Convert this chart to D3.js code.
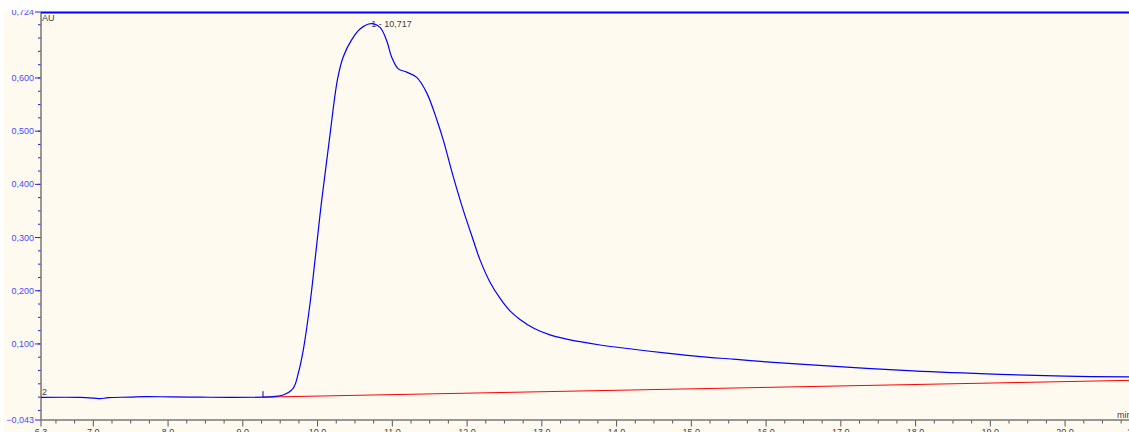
<!DOCTYPE html>
<html>
<head>
<meta charset="utf-8">
<script src="https://cdn.jsdelivr.net/npm/d3@7"></script>
<style>
  body { margin: 0; background: #fff; }
  svg { display: block; font-family: "Liberation Sans", Arial, sans-serif; }
</style>
</head>
<body>
<div id="chromatogram"></div>
<script>
// signal (minutes, AU)
var times = [6.3, 6.82, 7.01, 7.09, 7.2, 7.49, 7.69, 8.03, 8.43, 8.83, 9.27, 9.41, 9.54,
  9.675, 9.742, 9.809, 9.899, 9.966, 10.055, 10.157, 10.267, 10.344, 10.457, 10.568,
  10.717, 10.835, 10.925, 10.992, 11.08, 11.192, 11.326, 11.46, 11.594, 11.682, 11.816,
  11.95, 12.083, 12.173, 12.307, 12.44, 12.574, 12.708, 12.886, 13.109, 13.333, 13.779,
  14.224, 14.67, 15.116, 15.561, 16.008, 16.454, 17.965, 19.13, 20.0, 20.855];
var absorbance = [-0.0005, -0.0005, -0.002, -0.003, -0.001, 0.0, 0.001, 0.0005, 0.0, -0.0005, 0.0, 0.001, 0.004,
  0.017, 0.045, 0.089, 0.176, 0.258, 0.370, 0.483, 0.598, 0.640, 0.672, 0.692,
  0.702, 0.695, 0.670, 0.639, 0.617, 0.611, 0.601, 0.572, 0.522, 0.483, 0.414,
  0.351, 0.295, 0.258, 0.216, 0.186, 0.162, 0.146, 0.130, 0.117, 0.109, 0.098,
  0.090, 0.0826, 0.0762, 0.0713, 0.0662, 0.0619, 0.0493, 0.0428, 0.0394, 0.038];

// integration baseline
var baseTimes = [9.27, 20.855];
var baseValues = [0.0, 0.0315];

var peakLabel = "1 - 10,717";
var peakTime = 10.717;
var peakValue = 0.702;
var eventLabel = "2";
var markTime = 9.27;

var xMajor = [6.3, 7, 8, 9, 10, 11, 12, 13, 14, 15, 16, 17, 18, 19, 20, 21];
var yMajor = [-0.043, 0.1, 0.2, 0.3, 0.4, 0.5, 0.6, 0.724];

var width = 1129, height = 432;

var x = d3.scaleLinear().domain([6.3, 20.855]).range([41, 1129]);
var y = d3.scaleLinear().domain([-0.043, 0.724]).range([420, 12]);

var fmt = function(v, p) { return d3.format("." + p + "f")(v).replace(".", ","); };

var svg = d3.select("#chromatogram").append("svg")
    .attr("width", width)
    .attr("height", height);

svg.append("defs").append("clipPath").attr("id", "view")
  .append("rect").attr("x", 0).attr("y", 10).attr("width", width).attr("height", height - 10);

svg.append("rect")
    .attr("x", 4).attr("y", 12)
    .attr("width", width - 4).attr("height", height - 12)
    .attr("fill", "#fffaf0");

var g = svg.append("g").attr("clip-path", "url(#view)");

// minor ticks
var yMinor = d3.range(-0.025, 0.72, 0.025);
g.selectAll(".ymin").data(yMinor).enter().append("line")
    .attr("x1", 38).attr("x2", 41)
    .attr("y1", function(d) { return y(d); }).attr("y2", function(d) { return y(d); })
    .attr("stroke", "#2020ff").attr("stroke-width", 1);

var xMinor = d3.range(6.5, 20.9, 0.25).filter(function(d) { return Math.abs(d - Math.round(d)) > 0.01; });
g.selectAll(".xmin").data(xMinor).enter().append("line")
    .attr("x1", function(d) { return x(d); }).attr("x2", function(d) { return x(d); })
    .attr("y1", 420).attr("y2", 423.5)
    .attr("stroke", "#555").attr("stroke-width", 1);

// major y ticks + labels
g.selectAll(".ymaj").data(yMajor).enter().append("line")
    .attr("x1", 35).attr("x2", 41)
    .attr("y1", function(d) { return y(d); }).attr("y2", function(d) { return y(d); })
    .attr("stroke", "#2020ff").attr("stroke-width", 1);

g.selectAll(".ylab").data(yMajor).enter().append("text")
    .attr("x", 34)
    .attr("y", function(d) { return y(d) + 3; })
    .attr("text-anchor", "end")
    .attr("font-size", "9px")
    .attr("fill", "#4a4aff")
    .text(function(d) { return fmt(d, 3); });

// major x ticks + labels (cut by the bottom edge, as in the original print)
g.selectAll(".xmaj").data(xMajor).enter().append("line")
    .attr("x1", function(d) { return x(d); }).attr("x2", function(d) { return x(d); })
    .attr("y1", 420).attr("y2", 426.5)
    .attr("stroke", "#555").attr("stroke-width", 1);

g.selectAll(".xlab").data(xMajor).enter().append("text")
    .attr("x", function(d) { return Math.min(x(d), 1136); })
    .attr("y", 435)
    .attr("text-anchor", "middle")
    .attr("font-size", "9px")
    .attr("fill", "#404040")
    .text(function(d) { return fmt(d, 1); });

// axes lines
g.append("line")
    .attr("x1", 41).attr("x2", 41).attr("y1", 12).attr("y2", 420)
    .attr("stroke", "#777").attr("stroke-width", 1.5);
g.append("line")
    .attr("x1", 41).attr("x2", width).attr("y1", 420).attr("y2", 420)
    .attr("stroke", "#777").attr("stroke-width", 1.5);

// top border
g.append("line")
    .attr("x1", 41).attr("x2", width).attr("y1", 12.5).attr("y2", 12.5)
    .attr("stroke", "#0000ff").attr("stroke-width", 2);

g.append("text").attr("x", 42).attr("y", 21)
    .attr("font-size", "9px").attr("fill", "#404040").text("AU");
g.append("text").attr("x", 1117).attr("y", 418)
    .attr("font-size", "9px").attr("fill", "#404040").text("min");

// baseline (red)
var baseData = baseTimes.map(function(t, i) { return {t: t, v: baseValues[i]}; });
g.append("path")
    .datum(baseData)
    .attr("fill", "none")
    .attr("stroke", "#ff0000")
    .attr("stroke-width", 1)
    .attr("d", d3.line().x(function(d) { return x(d.t); }).y(function(d) { return y(d.v); }));

// signal (blue)
var sig = times.map(function(t, i) { return {t: t, v: absorbance[i]}; });
g.append("path")
    .datum(sig)
    .attr("fill", "none")
    .attr("stroke", "#0000ff")
    .attr("stroke-width", 1.2)
    .attr("d", d3.line().curve(d3.curveCatmullRom.alpha(0.5))
      .x(function(d) { return x(d.t); }).y(function(d) { return y(d.v); }));

// integration start mark
g.append("line")
    .attr("x1", x(markTime)).attr("x2", x(markTime))
    .attr("y1", y(0) - 6).attr("y2", y(0))
    .attr("stroke", "#0000ff").attr("stroke-width", 1);

g.append("text").attr("x", x(peakTime)).attr("y", y(peakValue) + 3)
    .attr("font-size", "9px").attr("fill", "#404040").text(peakLabel);
g.append("text").attr("x", 42).attr("y", 395)
    .attr("font-size", "9px").attr("fill", "#404040").text(eventLabel);
</script>
</body>
</html>
